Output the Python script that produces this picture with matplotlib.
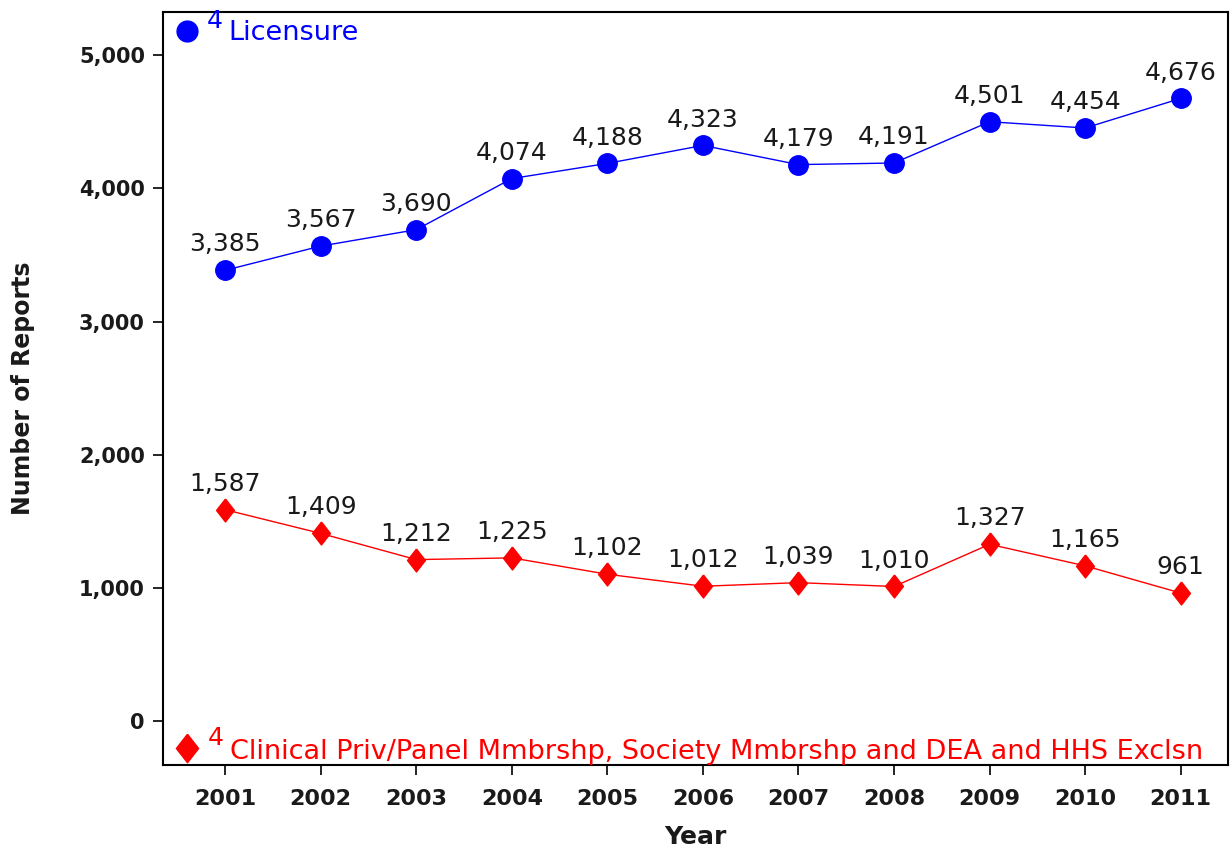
import matplotlib.pyplot as plt
from matplotlib.ticker import FuncFormatter

years = [2001, 2002, 2003, 2004, 2005, 2006, 2007, 2008, 2009, 2010, 2011]
licensure = [3385, 3567, 3690, 4074, 4188, 4323, 4179, 4191, 4501, 4454, 4676]
clinical = [1587, 1409, 1212, 1225, 1102, 1012, 1039, 1010, 1327, 1165, 961]

lic_label = 'Licensure'
clin_label = 'Clinical Priv/Panel Mmbrshp, Society Mmbrshp and DEA and HHS Exclsn'

# diamond a bit wider than matplotlib's thin diamond
diamond = [(0, 1), (0.78, 0), (0, -1), (-0.78, 0), (0, 1)]

fig = plt.figure(figsize=(12.3, 8.48), dpi=100)
ax = fig.add_axes([0.1325, 0.098, 0.8655, 0.8875])

ax.plot(years, licensure, color='#0000ff', lw=1, marker='o', ms=14, zorder=3)
ax.plot(years, clinical, color='#ff0000', lw=1, marker=diamond, ms=16.5, zorder=3)

for x, y in zip(years, licensure):
    ax.annotate(f'{y:,}', (x, y), xytext=(0, 10), textcoords='offset points',
                ha='center', va='bottom', fontsize=18, color='#1a1a1a')
for x, y in zip(years, clinical):
    ax.annotate(f'{y:,}', (x, y), xytext=(0, 10), textcoords='offset points',
                ha='center', va='bottom', fontsize=18, color='#1a1a1a')

# legend items drawn inside the plot
ax.plot([2000.6], [5185], marker='o', color='#0000ff', ms=15, clip_on=False)
ax.annotate('4', (2000.6, 5185), xytext=(14, -2), textcoords='offset points',
            color='#0000ff', fontsize=18, va='bottom', ha='left')
ax.annotate(lic_label, (2000.6, 5185), xytext=(30, -7), textcoords='offset points',
            color='#0000ff', fontsize=19.5, va='baseline', ha='left')
ax.plot([2000.6], [-205], marker=diamond, color='#ff0000', ms=20.5, clip_on=False)
ax.annotate('4', (2000.6, -205), xytext=(15, -1), textcoords='offset points',
            color='#ff0000', fontsize=18, va='bottom', ha='left')
ax.annotate(clin_label, (2000.6, -205), xytext=(31, -8), textcoords='offset points',
            color='#ff0000', fontsize=19.5, va='baseline', ha='left')

ax.set_xlim(2000.35, 2011.49)
ax.set_ylim(-330, 5323)
ax.set_xticks(years)
ax.set_yticks([0, 1000, 2000, 3000, 4000, 5000])
ax.yaxis.set_major_formatter(FuncFormatter(lambda v, p: f'{int(v):,}'))
ax.tick_params(direction='out', length=7, width=1.2, labelsize=15, pad=6)
ax.tick_params(axis='x', pad=10, labelsize=16)
for lbl in ax.get_xticklabels() + ax.get_yticklabels():
    lbl.set_fontweight('bold')
    lbl.set_color('#1a1a1a')
ax.set_xlabel('Year', fontsize=18, fontweight='bold', color='#1a1a1a')
ax.set_ylabel('Number of Reports', fontsize=17, fontweight='bold', color='#1a1a1a')
ax.xaxis.set_label_coords(0.5, -0.08)
ax.yaxis.set_label_coords(-0.12, 0.5)
for s in ax.spines.values():
    s.set_linewidth(1.5)

fig.savefig('out.png', dpi=100)
